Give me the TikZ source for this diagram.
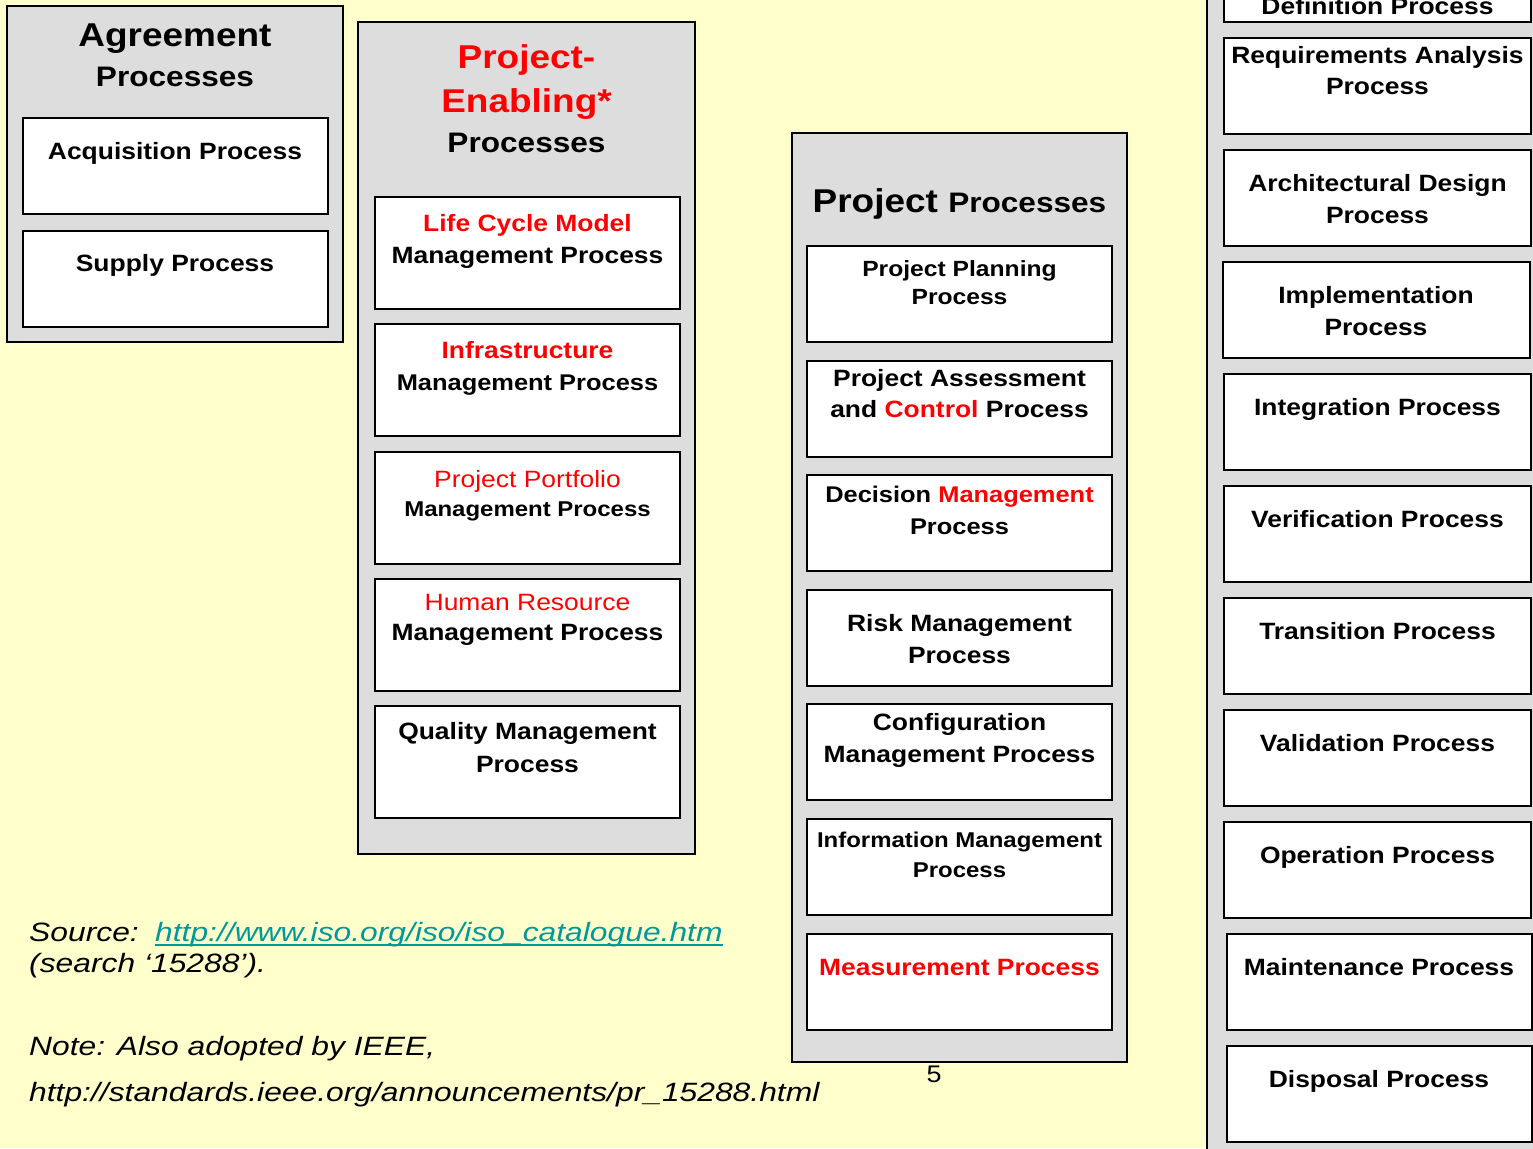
\documentclass[tikz,border=0pt]{standalone}
\usepackage{fontspec}
\setmainfont{Liberation Sans}[FakeStretch=1.12]
\newfontfamily\notefont{Liberation Sans}[FakeStretch=1.2]
\usetikzlibrary{positioning}
\definecolor{bgyellow}{HTML}{FFFFCC}
\definecolor{panelgray}{HTML}{DDDDDD}
\definecolor{linkteal}{HTML}{009999}
\newcommand{\rd}[1]{\textcolor{red}{#1}}
\begin{document}
\begin{tikzpicture}[x=1pt, y=-1pt,
    panel/.style={draw, line width=2pt, fill=panelgray, inner sep=0pt},
    pbox/.style={draw, line width=2pt, fill=white, inner sep=0pt, minimum width=305pt, minimum height=96pt},
    ptext/.style={align=center, inner sep=0pt, font=\bfseries\fontsize{23.6}{32}\selectfont},
    ttext/.style={align=center, inner sep=0pt, font=\bfseries\fontsize{33}{44}\selectfont},
    note/.style={anchor=base west, inner sep=0pt, font=\notefont\itshape\fontsize{26.5}{31}\selectfont}]
        \useasboundingbox (0,0) rectangle (1533,1148);
        \clip (0,0) rectangle (1533,1148);
        \fill[bgyellow] (0,0) rectangle (1533,1148);

        % Panels
        \node[panel, minimum width=336pt, minimum height=336pt] (agrp) at (175,174) {};
        \node[panel, minimum width=337pt, minimum height=832pt] (enbp) at (526.5,438) {};
        \node[panel, minimum width=335pt, minimum height=929pt] (prjp) at (959.5,597.5) {};
        \node[panel, minimum width=353pt, minimum height=1190pt] (tecp) at (1383.5,575) {};

        % Panel titles
        \node[ttext, below=19pt of agrp.north] (agrt) {Agreement\\[-4pt]{\fontsize{28.2}{40}\selectfont Processes}};
        \node[ttext, below=23pt of enbp.north] (enbt) {\rd{Project-}\\\rd{Enabling*}\\[-4pt]{\fontsize{28.2}{40}\selectfont Processes}};
        \node[ttext, anchor=base] (prjt) at (959.5,212) {Project {\fontsize{28.2}{34}\selectfont Processes}};

        % Agreement processes
        \node[pbox] (acq) at (175,166) {};
        \node[ptext, below=25pt of acq.north] (acqt) {Acquisition Process};
        \node[pbox] (sup) at (175,278.5) {};
        \node[ptext, below=25pt of sup.north] (supt) {Supply Process};

        % Project-enabling processes
        \node[pbox, minimum height=112pt] (lcm) at (527.5,253) {};
        \node[ptext, below=18pt of lcm.north] (lcmt) {\rd{Life Cycle Model}\\Management Process};
        \node[pbox, minimum height=112pt] (inf) at (527.5,380) {};
        \node[ptext, below=18pt of inf.north] (inft) {\rd{Infrastructure}\\{\fontsize{22.7}{32}\selectfont Management Process}};
        \node[pbox, minimum height=112pt] (pfl) at (527.5,507.5) {};
        \node[ptext, below=20pt of pfl.north] (pflt) {{\mdseries\rd{Project Portfolio}}\\[-3pt]{\fontsize{21.4}{29}\selectfont Management Process}};
        \node[pbox, minimum height=112pt] (hrm) at (527.5,634.5) {};
        \node[ptext, below=17pt of hrm.north] (hrmt) {{\mdseries\rd{Human Resource}}\\[-2pt]Management Process};
        \node[pbox, minimum height=112pt] (qlm) at (527.5,762) {};
        \node[ptext, below=17pt of qlm.north] (qlmt) {Quality Management\\[1pt]Process};

        % Project processes
        \node[pbox] (pln) at (959.5,294) {};
        \node[ptext, font=\bfseries\fontsize{22}{28}\selectfont, below=15pt of pln.north] (plnt) {Project Planning\\Process};
        \node[pbox] (ass) at (959.5,409) {};
        \node[ptext, font=\bfseries\fontsize{23.6}{31}\selectfont, below=9pt of ass.north] (asst) {Project Assessment\\and \rd{Control} Process};
        \node[pbox] (dec) at (959.5,523) {};
        \node[ptext, font=\bfseries\fontsize{22.7}{32}\selectfont, below=11.5pt of dec.north] (dect) {Decision \rd{Management}\\Process};
        \node[pbox] (rsk) at (959.5,638) {};
        \node[ptext, below=25pt of rsk.north] (rskt) {Risk Management\\Process};
        \node[pbox] (cfg) at (959.5,752) {};
        \node[ptext, below=10pt of cfg.north] (cfgt) {Configuration\\Management Process};
        \node[pbox] (inm) at (959.5,867) {};
        \node[ptext, font=\bfseries\fontsize{21.4}{30}\selectfont, below=13.5pt of inm.north] (inmt) {Information Management\\Process};
        \node[pbox] (mea) at (959.5,982) {};
        \node[ptext, below=26pt of mea.north] (meat) {\rd{Measurement Process}};

        % Technical processes
        \node[pbox, minimum width=307pt, minimum height=102pt] (def) at (1377.5,-29) {};
        \node[ptext, anchor=base] (deft) at (1377.5,15) {Definition Process};
        \node[pbox, minimum width=307pt] (req) at (1377.5,86) {};
        \node[ptext, font=\bfseries\fontsize{23.6}{31}\selectfont, below=9pt of req.north] (reqt) {Requirements Analysis\\Process};
        \node[pbox, minimum width=307pt] (arc) at (1377.5,198) {};
        \node[ptext, below=25pt of arc.north] (arct) {Architectural Design\\Process};
        \node[pbox, minimum width=307pt] (imp) at (1376,310) {};
        \node[ptext, below=25pt of imp.north] (impt) {Implementation\\Process};
        \node[pbox, minimum width=307pt] (int) at (1377.5,422) {};
        \node[ptext, below=25pt of int.north] (intt) {Integration Process};
        \node[pbox, minimum width=307pt] (ver) at (1377.5,534) {};
        \node[ptext, below=25pt of ver.north] (vert) {Verification Process};
        \node[pbox, minimum width=307pt] (trn) at (1377.5,646) {};
        \node[ptext, below=25pt of trn.north] (trnt) {Transition Process};
        \node[pbox, minimum width=307pt] (val) at (1377.5,758) {};
        \node[ptext, below=25pt of val.north] (valt) {Validation Process};
        \node[pbox, minimum width=307pt] (opr) at (1377.5,870) {};
        \node[ptext, below=25pt of opr.north] (oprt) {Operation Process};
        \node[pbox, minimum width=305pt] (mnt) at (1379,982) {};
        \node[ptext, below=25pt of mnt.north] (mntt) {Maintenance Process};
        \node[pbox, minimum width=305pt] (dsp) at (1379,1094) {};
        \node[ptext, below=25pt of dsp.north] (dspt) {Disposal Process};

        % Notes
        \node[note] (src) at (29,941) {Source:};
        \node[note, text=linkteal] (lnk) at (155,941) {http://www.iso.org/iso/iso\_catalogue.htm};
        \draw[linkteal, line width=2.5pt] ([yshift=-4pt]lnk.base west) -- ([yshift=-4pt]lnk.base east);
        \node[note] (srch) at (29,972) {(search ‘15288’).};
        \node[note] (nte) at (29,1055) {Note: Also adopted by IEEE,};
        \node[note] (ieee) at (29,1101) {http://standards.ieee.org/announcements/pr\_15288.html};
        \node[anchor=base, inner sep=0pt, font=\fontsize{24}{28}\selectfont] (pgno) at (934,1082) {5};
    \end{tikzpicture}
\end{document}
